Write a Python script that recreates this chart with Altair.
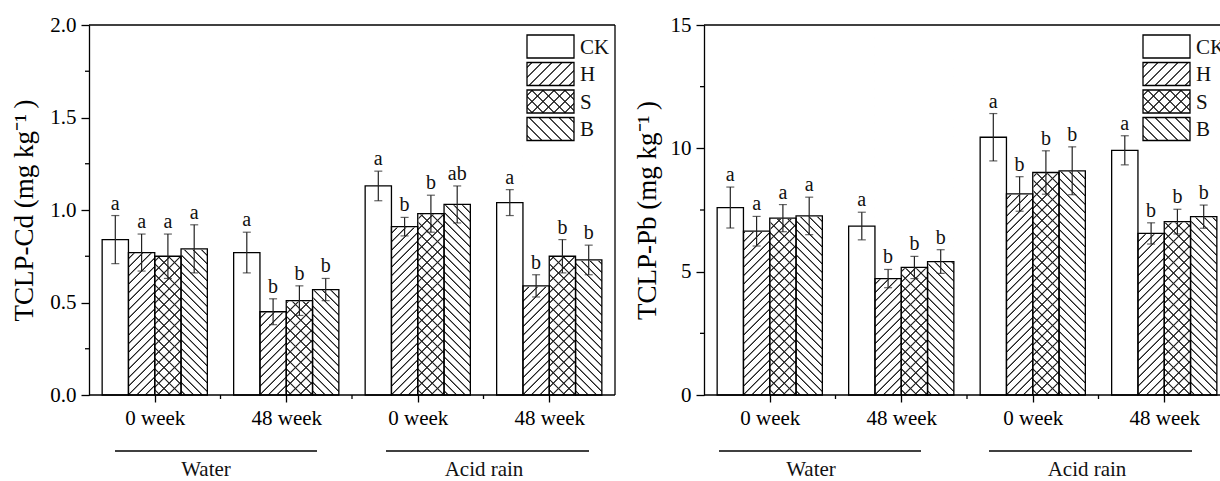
import math
import altair as alt
import pandas as pd

# ---------------- data ----------------
treatments = ["CK", "H", "S", "B"]
week_labels = ["0 week", "48 week", "0 week", "48 week"]
condition_labels = ["Water", "Acid rain"]

# group order: Water-0 week, Water-48 week, Acid rain-0 week, Acid rain-48 week (CK, H, S, B each)
cd_mean = [0.84, 0.77, 0.75, 0.79, 0.77, 0.45, 0.51, 0.57,
           1.13, 0.91, 0.98, 1.03, 1.04, 0.59, 0.75, 0.73]
cd_err = [0.13, 0.10, 0.12, 0.13, 0.11, 0.07, 0.08, 0.06,
          0.08, 0.05, 0.10, 0.10, 0.07, 0.06, 0.09, 0.08]
cd_sig = ["a", "a", "a", "a", "a", "b", "b", "b",
          "a", "b", "b", "ab", "a", "b", "b", "b"]

pb_mean = [7.60, 6.64, 7.17, 7.26, 6.85, 4.72, 5.17, 5.41,
           10.45, 8.15, 9.02, 9.09, 9.92, 6.55, 7.03, 7.23]
pb_err = [0.83, 0.60, 0.55, 0.76, 0.56, 0.37, 0.45, 0.48,
          0.96, 0.70, 0.88, 0.97, 0.59, 0.43, 0.50, 0.47]
pb_sig = ["a", "a", "a", "a", "a", "b", "b", "b",
          "a", "b", "b", "b", "a", "b", "b", "b"]

cd_major = [0, 0.5, 1.0, 1.5, 2.0]
cd_minor = [0.25, 0.75, 1.25, 1.75]
pb_major = [0, 5, 10, 15]
pb_minor = [2.5, 7.5, 12.5]

# ---------------- layout ----------------
FONT = "Liberation Serif"
PLOT_W, PLOT_H = 1131, 370
UNIT = 131.5                      # px per group
XMAX = PLOT_W / UNIT
RIGHT_BASE = 615 / UNIT           # right panel origin in group units
BAR = 0.2
INK = "#111111"


def hatch(w, h, period_x, slash=True, bg="white", fg="#222222"):
    c = (1 / h + 1 / w) / (1 / h ** 2 + 1 / w ** 2)
    a, b = c / h, c / w
    L = (w + h) / math.sqrt(2)
    p = period_x / math.sqrt(2)
    stops = [alt.GradientStop(offset=0, color=bg)]
    last = 0.0
    t = p / 2
    while t + 0.9 < L:
        for d, col in [(-0.9, bg), (-0.25, fg), (0.25, fg), (0.9, bg)]:
            off = round((t + d) / L, 6)
            if off <= last:
                off = last + 1e-6
            stops.append(alt.GradientStop(offset=off, color=col))
            last = off
        t += p
    stops.append(alt.GradientStop(offset=1, color=bg))
    if slash:
        return alt.LinearGradient(gradient="linear", stops=stops, x1=0, y1=0, x2=a, y2=b)
    return alt.LinearGradient(gradient="linear", stops=stops, x1=0, y1=1, x2=a, y2=1 - b)


CLEAR = "rgba(0,0,0,0)"
BW, BH = BAR * UNIT, PLOT_H
bar_grads = {
    "H": [hatch(BW, BH, 8.5, True)],
    "B": [hatch(BW, BH, 8.5, False)],
    "S": [hatch(BW, BH, 10.5, False), hatch(BW, BH, 10.5, True, bg=CLEAR)],
}
LW, LH = 47, 23
leg_grads = {
    "CK": [],
    "H": [hatch(LW, LH, 10, True)],
    "B": [hatch(LW, LH, 10, False)],
    "S": [hatch(LW, LH, 11, False), hatch(LW, LH, 11, True, bg=CLEAR)],
}

xs = alt.Scale(domain=[0, XMAX], nice=False, zero=False)

centers = []
for base in (0.0, RIGHT_BASE):
    centers += [base + g + 0.5 for g in range(4)]
labels_x = week_labels + week_labels
expr = "''"
for v, lab in reversed(list(zip(centers, labels_x))):
    expr = f"abs(datum.value - {v:.4f}) < 0.01 ? '{lab}' : ({expr})"

x_axis = alt.Axis(values=centers, labelExpr=expr, tickSize=7, tickWidth=1.3, tickColor="black",
                  domain=False, grid=False, title=None, labelFont=FONT, labelFontSize=21,
                  labelColor="black", labelPadding=22, labelBaseline="alphabetic",
                  labelFlush=False, labelOverlap=False)


def panel_df(values, errs, sigs, base, top):
    rows = []
    for i, (v, e, s) in enumerate(zip(values, errs, sigs)):
        g, k = divmod(i, 4)
        x0 = base + g + 0.1 + BAR * k
        rows.append(dict(t=treatments[k], x0=x0, x1=x0 + BAR, xc=x0 + BAR / 2, value=v,
                         lo=v - e, hi=v + e, sig=s, zero=0.0, full=top))
    return pd.DataFrame(rows)


def one_row():
    return alt.Chart(pd.DataFrame({"d": [0]}))


def hline(x1, x2, y):
    return one_row().mark_rule(color="black", strokeWidth=1.3).encode(
        x=alt.value(x1), x2=alt.value(x2), y=alt.value(y))


def vline(x, y1, y2):
    return one_row().mark_rule(color="black", strokeWidth=1.3).encode(
        x=alt.value(x), y=alt.value(y1), y2=alt.value(y2))


def build_panel(values, errs, sigs, base, top, major, minor, fmt, title, title_x,
                legend_x, group_lines, group_text_x):
    df = panel_df(values, errs, sigs, base, top)
    ys = alt.Scale(domain=[0, top], nice=False, zero=False)
    axis_px = base * UNIT
    y_axis = alt.Axis(values=major, format=fmt, tickSize=8, tickWidth=1.3, tickColor="black",
                      domainColor="black", domainWidth=1.3, labelFont=FONT, labelFontSize=21,
                      labelColor="black", labelPadding=5, grid=False, title=title,
                      titleFont=FONT, titleFontSize=27, titleFontWeight="normal",
                      titleColor="black", titleX=title_x, titleY=PLOT_H / 2, titleAngle=270,
                      titleAlign="center", titleBaseline="alphabetic", offset=-axis_px,
                      orient="left", labelOverlap=False, labelFlush=False)

    def X(f):
        return alt.X(f, type="quantitative", scale=xs, axis=x_axis)

    def Y(f):
        return alt.Y(f, type="quantitative", scale=ys, axis=y_axis)

    c = alt.Chart(df)
    layers = []
    for t in ["H", "B", "S"]:
        for gr in bar_grads[t]:
            layers.append(c.transform_filter(alt.datum.t == t).mark_rect(fill=gr).encode(
                x=X("x0"), x2=alt.X2("x1"), y=Y("zero"), y2=alt.Y2("full")))
    # white cover above bar tops (stroke hides anti-aliased hatch edges)
    layers.append(c.transform_filter(alt.datum.t != "CK").mark_rect(
        fill="white", stroke="white", strokeWidth=1.6).encode(
        x=X("x0"), x2=alt.X2("x1"), y=Y("value"), y2=alt.Y2("full")))
    layers.append(c.mark_rect(fill="transparent", stroke="black", strokeWidth=1.3).encode(
        x=X("x0"), x2=alt.X2("x1"), y=Y("zero"), y2=alt.Y2("value")))
    # error bars
    layers.append(c.mark_rule(color="#222222", strokeWidth=1.2).encode(
        x=X("xc"), y=Y("lo"), y2=alt.Y2("hi")))
    for f in ["lo", "hi"]:
        layers.append(c.mark_tick(orient="horizontal", size=8, thickness=1.2,
                                  color="#222222").encode(x=X("xc"), y=Y(f)))
    layers.append(c.mark_text(font=FONT, fontSize=20, baseline="alphabetic", dy=-6,
                              color=INK).encode(x=X("xc"), y=Y("hi"), text="sig:N"))
    # minor ticks
    layers.append(alt.Chart(pd.DataFrame({"v": minor})).mark_rule(
        color="black", strokeWidth=1.3).encode(
        y=Y("v"), x=alt.value(axis_px), x2=alt.value(axis_px - 4)))
    layers.append(alt.Chart(pd.DataFrame({"bx": [base + g for g in range(1, 4)]})).mark_rule(
        color="black", strokeWidth=1.3).encode(
        x=X("bx"), y=alt.value(PLOT_H), y2=alt.value(PLOT_H + 4)))
    # frame
    right_edge = min(axis_px + 4 * UNIT, PLOT_W)
    layers.append(hline(axis_px, right_edge, 0))
    layers.append(hline(axis_px, right_edge, PLOT_H))
    if axis_px + 4 * UNIT <= PLOT_W:
        layers.append(vline(axis_px + 4 * UNIT, 0, PLOT_H))
    # legend
    for k, name in enumerate(treatments):
        top_px = 10 + 27.5 * k
        lc = alt.Chart(pd.DataFrame({"name": [name]}))
        enc = dict(x=alt.value(legend_x), x2=alt.value(legend_x + LW),
                   y=alt.value(top_px), y2=alt.value(top_px + LH))
        for gr in leg_grads[name]:
            layers.append(lc.mark_rect(fill=gr).encode(**enc))
        layers.append(lc.mark_rect(fill="transparent", stroke="black", strokeWidth=1.3).encode(**enc))
        layers.append(lc.mark_text(font=FONT, fontSize=21, align="left", baseline="middle",
                                   color=INK).encode(x=alt.value(legend_x + LW + 6),
                                                     y=alt.value(top_px + LH / 2 + 1),
                                                     text="name:N"))
    # group lines and names
    for (x1, x2), tx, name in zip(group_lines, group_text_x, condition_labels):
        layers.append(hline(x1, x2, 426))
        layers.append(alt.Chart(pd.DataFrame({"name": [name]})).mark_text(
            font=FONT, fontSize=21, baseline="alphabetic", align="center", color=INK).encode(
            x=alt.value(tx), y=alt.value(451), text="name:N"))
    return alt.layer(*layers)


left = build_panel(cd_mean, cd_err, cd_sig, 0.0, 2.0, cd_major, cd_minor, ".1f",
                   "TCLP-Cd (mg kg\u207b\u00b9\u2009)", -57, 438,
                   [(26, 228), (297, 500)], [117, 395])
right = build_panel(pb_mean, pb_err, pb_sig, RIGHT_BASE, 15.0, pb_major, pb_minor, "d",
                    "TCLP-Pb (mg kg\u207b\u00b9\u2009)", -49, 1054,
                    [(630, 832), (900, 1103)], [722, 998])

chart = alt.layer(left, right).resolve_scale(y="independent").properties(
    width=PLOT_W, height=PLOT_H,
    autosize=alt.AutoSizeParams(type="none"),
    padding={"left": 89, "top": 25, "right": 0, "bottom": 86},
    background="white",
).configure_view(strokeWidth=0)

chart.save("out.html", embed_options={"renderer": "svg", "actions": False})
